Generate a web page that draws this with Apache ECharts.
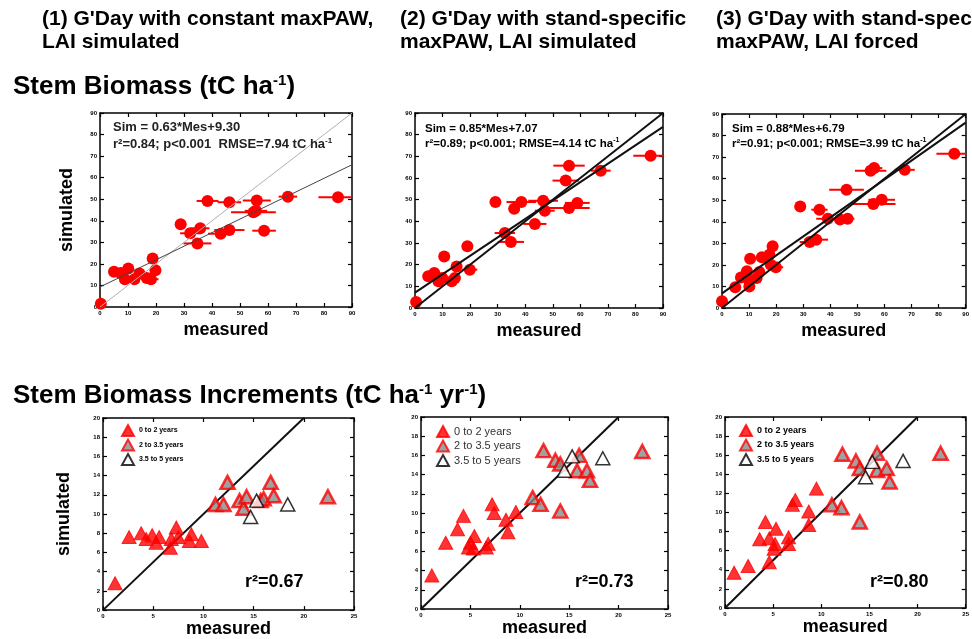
<!DOCTYPE html>
<html>
<head>
<meta charset="utf-8">
<title>G'Day stem biomass</title>
<script src="https://cdn.jsdelivr.net/npm/echarts@6/dist/echarts.min.js"></script>
<style>
  html, body { margin: 0; padding: 0; background: #fff; }
  #main { width: 972px; height: 639px; }
</style>
</head>
<body>
<div id="main"></div>
<script>
// stem biomass, measured vs simulated (tC/ha), with horizontal error on measured
var stemMes1 = [0.3, 5, 7.4, 10.1, 8.9, 12.3, 14.1, 16.7, 18.2, 18.8, 19.8, 28.8, 32.2, 35.8, 34.8, 38.4, 43.1, 46.2, 46.2, 56, 54.8, 55.7, 58.6, 67.1, 85];
var stemSim1 = [1.5, 16.3, 15.8, 17.9, 12.9, 12.9, 15.5, 13.5, 12.9, 22.5, 17.1, 38.4, 34.2, 36.5, 29.5, 49.2, 34, 48.6, 35.7, 49.4, 43.9, 44.6, 35.4, 51.2, 50.9];
var stemErr1 = [0, 0, 0, 0, 0, 0, 0, 2, 2.7, 0, 0, 2, 3.6, 3.3, 5, 3.9, 4.5, 4.2, 5.4, 5, 8, 4, 4.2, 3.3, 7];

var stemMes2 = [0.4, 4.8, 7, 8.5, 10.6, 9.9, 13.3, 15.1, 14.5, 19, 19.9, 29.2, 32.6, 34.8, 36, 38.6, 43.5, 46.5, 47.1, 54.7, 55.9, 55.9, 58.9, 67.4, 85.5];
var stemSim2 = [2.8, 14.6, 16.2, 12.3, 23.8, 13.8, 12.3, 19.2, 13.8, 28.5, 17.7, 48.9, 34.6, 30.5, 45.8, 48.9, 38.8, 49.5, 44.9, 58.8, 65.7, 46.2, 48.5, 63.4, 70.3];
var stemErr2 = [0, 0, 0, 0, 0, 0, 0, 0, 0, 0, 2.7, 2, 3.7, 4.8, 2, 5.4, 4.2, 5.4, 3.6, 4.8, 5.7, 7.5, 4.5, 3.6, 6.3];

var stemMes3 = [0, 4.9, 7, 9.2, 10.4, 9.8, 10.1, 12.8, 13.8, 14.7, 17.5, 18.7, 18, 19.9, 28.9, 32.4, 34.8, 36, 39.1, 43.6, 46.4, 46, 54.9, 56.2, 55.9, 59, 67.5, 85.8];
var stemSim3 = [3.1, 9.6, 14.2, 17, 22.9, 13.1, 10, 13.9, 16.7, 23.5, 24.7, 28.6, 20.1, 18.9, 47.1, 30.6, 31.7, 45.6, 41.4, 41, 41.4, 54.9, 63.7, 64.9, 48.2, 50.2, 64.1, 71.6];
var stemErr3 = [0, 0, 0, 0, 0, 0, 0, 0, 0, 0, 0, 0, 0, 2.7, 2, 3.7, 4.4, 3, 4.3, 3.7, 2.5, 6.4, 5.8, 3, 8.2, 4.9, 3.7, 6.6];

// regression Sim = a*Mes + b for each run
var fitSlope = [0.63, 0.85, 0.88];
var fitIntercept = [9.30, 7.07, 6.79];
var fitR2 = ['0.84', '0.89', '0.91'];
var fitRmse = ['7.94', '4.14', '3.99'];

// stem biomass increments (tC/ha/yr), by stand age class
var ageClasses = ['0 to 2 years', '2 to 3.5 years', '3.5 to 5 years'];
var incRed1 = [[1.2, 2.8], [2.6, 7.6], [3.8, 8.0], [4.3, 7.4], [4.9, 7.8], [5.3, 7.0], [5.6, 7.6], [6.7, 6.5], [6.8, 7.4], [7.3, 8.6], [7.5, 7.6], [8.8, 7.9], [8.6, 7.2], [9.8, 7.2]];
var incGray1 = [[11.2, 11.0], [12.0, 11.0], [12.4, 13.3], [13.6, 11.4], [14.0, 10.6], [14.3, 11.8], [15.7, 11.4], [16.0, 11.6], [16.7, 13.3], [17.0, 11.9], [22.4, 11.8]];
var incWhite1 = [[14.7, 9.7], [15.3, 11.4], [18.4, 11.0]];

var incRed2 = [[1.1, 3.5], [2.5, 6.9], [3.7, 8.3], [4.3, 9.7], [4.8, 6.4], [5.0, 6.9], [5.4, 7.6], [5.3, 6.3], [6.6, 6.4], [6.8, 6.8], [7.2, 10.9], [7.4, 10.0], [8.6, 9.3], [8.8, 8.0], [9.6, 10.1]];
var incGray2 = [[11.3, 11.6], [12.1, 10.9], [12.4, 16.5], [13.6, 15.5], [14.1, 15.1], [14.1, 10.2], [15.8, 14.4], [16.0, 16.0], [16.8, 14.4], [17.1, 13.4], [22.4, 16.4]];
var incWhite2 = [[14.5, 14.4], [15.3, 15.9], [18.4, 15.7]];

var incRed3 = [[0.95, 3.7], [2.4, 4.4], [3.6, 7.2], [4.2, 9.0], [4.6, 7.3], [4.6, 4.8], [5.1, 6.2], [5.2, 6.7], [5.3, 8.3], [6.6, 7.4], [6.6, 6.7], [7.0, 10.8], [7.3, 11.3], [8.7, 8.7], [8.7, 10.1], [9.5, 12.5]];
var incGray3 = [[11.1, 10.8], [12.1, 10.5], [12.2, 16.1], [13.6, 15.4], [14.0, 14.6], [14.0, 9.0], [15.8, 16.2], [15.8, 14.4], [16.8, 14.6], [17.1, 13.2], [22.4, 16.2]];
var incWhite3 = [[14.6, 13.7], [15.3, 15.3], [18.5, 15.4]];
var incR2 = ['0.67', '0.73', '0.80'];

var stemMax = 90, stemStep = 10;
var incXMax = 25, incXStep = 5, incYMax = 20, incYStep = 2;

var myChart = echarts.init(document.getElementById('main'));

var SANS = "'Liberation Sans', Arial, sans-serif";
var RED = '#ff0000';

var grids = [
    {left: 100, top: 113, width: 252, height: 194},
    {left: 415, top: 113, width: 248, height: 195},
    {left: 722, top: 114, width: 246, height: 194},
    {left: 103, top: 418, width: 251, height: 193},
    {left: 421, top: 417, width: 247, height: 192},
    {left: 725, top: 417, width: 245, height: 191}
];

var nameStyle = {fontFamily: SANS, fontWeight: 'bold', fontSize: 18, color: '#000'};
var lineCol = {color: '#000', width: 1.5};

function axisPair(dir, gi, max, step, name, gap) {
    // main axis with labels + mirrored axis carrying only ticks
    var main = {
        type: 'value', gridIndex: gi, min: 0, max: max, interval: step,
        position: dir === 'x' ? 'bottom' : 'left',
        axisLine: {show: true, onZero: false, lineStyle: lineCol},
        axisTick: {show: true, inside: true, length: 4, lineStyle: {color: '#000', width: 1.2}},
        axisLabel: {fontSize: 6, fontWeight: 'bold', color: '#000', margin: 3, fontFamily: SANS},
        splitLine: {show: false}
    };
    if (name) {
        main.name = name;
        main.nameLocation = 'middle';
        main.nameGap = gap;
        main.nameTextStyle = nameStyle;
    }
    var mirror = {
        type: 'value', gridIndex: gi, min: 0, max: max, interval: step,
        position: dir === 'x' ? 'top' : 'right',
        axisLine: {show: true, onZero: false, lineStyle: lineCol},
        axisTick: {show: true, inside: true, length: 4, lineStyle: {color: '#000', width: 1.2}},
        axisLabel: {show: false},
        splitLine: {show: false}
    };
    return [main, mirror];
}

var xAxes = [], yAxes = [];
for (var g = 0; g < 6; g++) {
    var isStem = g < 3;
    xAxes = xAxes.concat(axisPair('x', g, isStem ? stemMax : incXMax, isStem ? stemStep : incXStep, 'measured', isStem ? 14 : 9));
    yAxes = yAxes.concat(axisPair('y', g, isStem ? stemMax : incYMax, isStem ? stemStep : incYStep,
        (g === 0 || g === 3) ? 'simulated' : null, isStem ? 24 : 30));
}

function errorBars(gi, mes, sim, err) {
    return {
        type: 'custom', xAxisIndex: gi * 2, yAxisIndex: gi * 2, clip: true, z: 2,
        data: mes.map(function (m, i) { return [m, sim[i], err[i]]; }),
        encode: {x: 0, y: 1},
        renderItem: function (params, api) {
            var e = api.value(2);
            if (!e) return null;
            var a = api.coord([api.value(0) - e, api.value(1)]);
            var b = api.coord([api.value(0) + e, api.value(1)]);
            return {type: 'line', shape: {x1: a[0], y1: a[1], x2: b[0], y2: b[1]},
                style: {stroke: RED, lineWidth: 2}};
        }
    };
}

function dots(gi, mes, sim) {
    return {
        type: 'scatter', xAxisIndex: gi * 2, yAxisIndex: gi * 2, z: 3,
        symbol: 'circle', symbolSize: 12,
        itemStyle: {color: RED, opacity: 1},
        data: mes.map(function (m, i) { return [m, sim[i]]; })
    };
}

function straight(gi, pts, color, width, z) {
    return {
        type: 'line', xAxisIndex: gi * 2, yAxisIndex: gi * 2, z: z || 4,
        showSymbol: false, symbol: 'none', silent: true, animation: false,
        lineStyle: {color: color, width: width},
        data: pts
    };
}

var series = [];
var stemSets = [[stemMes1, stemSim1, stemErr1], [stemMes2, stemSim2, stemErr2], [stemMes3, stemSim3, stemErr3]];
stemSets.forEach(function (s, i) {
    series.push(errorBars(i, s[0], s[1], s[2]));
    series.push(dots(i, s[0], s[1]));
    var oneCol = i === 0 ? '#b0b0b0' : '#111';
    var fitCol = i === 0 ? '#444' : '#111';
    var w = i === 0 ? 1 : 2;
    series.push(straight(i, [[0, 0], [stemMax, stemMax]], oneCol, w));
    series.push(straight(i, [[0, fitIntercept[i]], [stemMax, fitSlope[i] * stemMax + fitIntercept[i]]], fitCol, w));
});

var incSets = [[incRed1, incGray1, incWhite1], [incRed2, incGray2, incWhite2], [incRed3, incGray3, incWhite3]];
var triStyles = [
    {color: RED, borderColor: RED, borderWidth: 1},
    {color: '#8a8a8a', borderColor: RED, borderWidth: 2.5},
    {color: '#fff', borderColor: '#000', borderWidth: 1.5}
];
incSets.forEach(function (s, i) {
    var gi = i + 3;
    series.push(straight(gi, [[0, 0], [incYMax, incYMax]], '#111', 2, 2));
    s.forEach(function (pts, k) {
        series.push({
            name: ageClasses[k], type: 'scatter', xAxisIndex: gi * 2, yAxisIndex: gi * 2, z: 3 + k,
            symbol: 'triangle', symbolSize: [14, 13],
            itemStyle: triStyles[k],
            data: pts
        });
    });
});

var supRich = function (size, raise) {
    return {s: {fontSize: size, fontWeight: 'bold', fontFamily: SANS, padding: [0, 0, raise, 0], color: '#000'}};
};

var titles = [
    {text: "(1) G'Day with constant maxPAW,\nLAI simulated", left: 42, top: 8},
    {text: "(2) G'Day with stand-specific\nmaxPAW, LAI simulated", left: 400, top: 8},
    {text: "(3) G'Day with stand-specific\nmaxPAW, LAI forced", left: 716, top: 8}
].map(function (t) {
    t.padding = 0;
    t.textStyle = {fontFamily: SANS, fontWeight: 'bold', fontSize: 21, lineHeight: 23, color: '#000'};
    return t;
});

titles.push({
    text: 'Stem Biomass (tC ha{s|-1})', left: 13, top: 73, padding: 0,
    textStyle: {fontFamily: SANS, fontWeight: 'bold', fontSize: 26, color: '#000', rich: supRich(15, 12)}
});
titles.push({
    text: 'Stem Biomass Increments (tC ha{s|-1} yr{s|-1})', left: 13, top: 382, padding: 0,
    textStyle: {fontFamily: SANS, fontWeight: 'bold', fontSize: 26, color: '#000', rich: supRich(15, 12)}
});

// regression annotations
titles.push({
    text: 'Sim = ' + fitSlope[0].toFixed(2) + '*Mes+' + fitIntercept[0].toFixed(2) + '\nr\u00b2=' + fitR2[0] + '; p<0.001  RMSE=' + fitRmse[0] + ' tC ha{t|-1}',
    left: 113, top: 119, padding: 0,
    textStyle: {fontFamily: SANS, fontSize: 13, lineHeight: 17, color: '#222',
        rich: {t: {fontSize: 8, fontFamily: SANS, color: '#222', padding: [0, 0, 7, 0]}}}
});
[1, 2].forEach(function (i) {
    titles.push({
        text: 'Sim = ' + fitSlope[i].toFixed(2) + '*Mes+' + fitIntercept[i].toFixed(2) + '\nr\u00b2=' + fitR2[i] + '; p<0.001; RMSE=' + fitRmse[i] + ' tC ha{t|-1}',
        left: grids[i].left + 10, top: 121, padding: 0,
        textStyle: {fontFamily: SANS, fontWeight: 'bold', fontSize: 11.5, lineHeight: 15, color: '#000',
            rich: {t: {fontSize: 7, fontWeight: 'bold', fontFamily: SANS, color: '#000', padding: [0, 0, 6, 0]}}}
    });
});
[245, 575, 870].forEach(function (x, i) {
    titles.push({
        text: 'r\u00b2=' + incR2[i], left: x, top: 573, padding: 0,
        textStyle: {fontFamily: SANS, fontWeight: 'bold', fontSize: 18, color: '#000'}
    });
});

var legendDefs = [
    {left: 121, top: 424, font: {fontSize: 7, fontWeight: 'bold', fontFamily: SANS, color: '#000'}},
    {left: 436, top: 425, font: {fontSize: 11, fontFamily: SANS, color: '#333'}},
    {left: 739, top: 424, font: {fontSize: 9, fontWeight: 'bold', fontFamily: SANS, color: '#000'}}
];
var legends = legendDefs.map(function (d) {
    return {
        data: ageClasses, orient: 'vertical', left: d.left, top: d.top, padding: 0,
        itemWidth: 12, itemHeight: 11, itemGap: 1.5, selectedMode: false,
        textStyle: d.font
    };
});

var option = {
    backgroundColor: '#fff',
    animation: false,
    title: titles,
    legend: legends,
    grid: grids,
    xAxis: xAxes,
    yAxis: yAxes,
    series: series
};
myChart.setOption(option);
</script>
</body>
</html>
